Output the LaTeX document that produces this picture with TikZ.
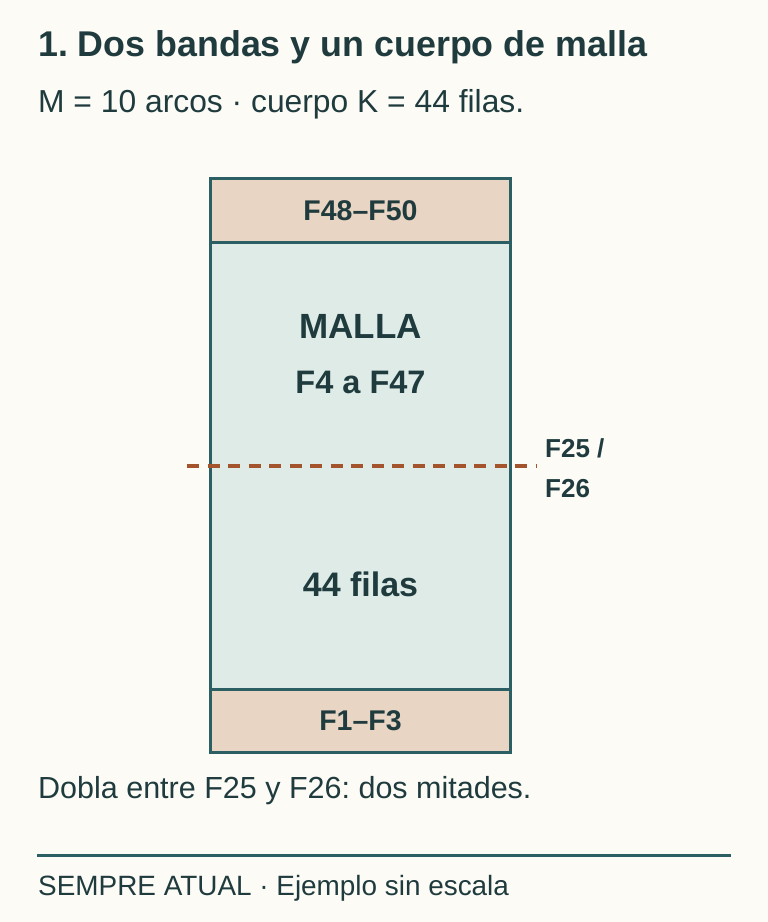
\documentclass[tikz,border=0pt]{standalone}
\usepackage{fontspec}
\setmainfont{Liberation Sans}
\definecolor{paper}{HTML}{FCFBF5}
\definecolor{ink}{HTML}{1F3B3E}
\definecolor{edge}{HTML}{2C5F64}
\definecolor{bandfill}{HTML}{E8D5C3}
\definecolor{bodyfill}{HTML}{DEEBE6}
\definecolor{fold}{HTML}{A4542C}
\frenchspacing

\begin{document}
\begin{tikzpicture}[x=1pt,y=-1pt]
\tikzstyle{every node}=[text=ink, inner sep=0pt]
\tikzstyle{band}=[draw=edge, fill=bandfill, line width=3pt, minimum width=300pt, minimum height=63.5pt, font=\fontsize{28.5}{30}\selectfont\bfseries]
\tikzstyle{mesh}=[draw=edge, fill=bodyfill, line width=3pt, minimum width=300pt, minimum height=447pt]
\tikzstyle{plain}=[anchor=base west]

\fill[paper] (0,0) rectangle (768,922);
\useasboundingbox (0,0) rectangle (768,922);

\node[plain, font=\fontsize{35.8}{40}\selectfont\bfseries] (title) at (38,56) {1. Dos bandas y un cuerpo de malla};
\node[plain, font=\fontsize{31.8}{34}\selectfont] (sub) at (38,112) {M = 10 arcos · cuerpo K = 44 filas.};

\node[mesh] (body) at (360.5,465.5) {};
\node[band] (top) at (360.5,210.25) {F48--F50};
\node[band] (bottom) at (360.5,720.75) {F1--F3};

\node[anchor=base, font=\fontsize{35}{40}\selectfont\bfseries] (malla) at (360.5,338) {MALLA};
\node[anchor=base, font=\fontsize{32.5}{36}\selectfont\bfseries] (range) at (360.5,393) {F4 a F47};
\node[anchor=base, font=\fontsize{34}{38}\selectfont\bfseries] (rows) at (360.5,596) {44 filas};

\coordinate (foldL) at (187,465.5);
\coordinate (foldR) at (536,465.5);
\draw[fold, line width=4pt, dash pattern=on 12pt off 8.5pt] (foldL) -- (foldR);
\node[plain, font=\fontsize{26}{30}\selectfont\bfseries] (foldA) at (545,457) {F25 /};
\node[plain, font=\fontsize{26}{30}\selectfont\bfseries] (foldB) at (545,497) {F26};

\node[plain, font=\fontsize{30.5}{34}\selectfont] (note) at (38,798) {Dobla entre F25 y F26: dos mitades.};
\coordinate (ruleL) at (37,855);
\coordinate (ruleR) at (731,855);
\draw[edge, line width=3pt] (ruleL) -- (ruleR);
\node[plain, font=\fontsize{27.9}{30}\selectfont] (foot) at (38,895) {SEMPRE ATUAL · Ejemplo sin escala};

\end{tikzpicture}
\end{document}
